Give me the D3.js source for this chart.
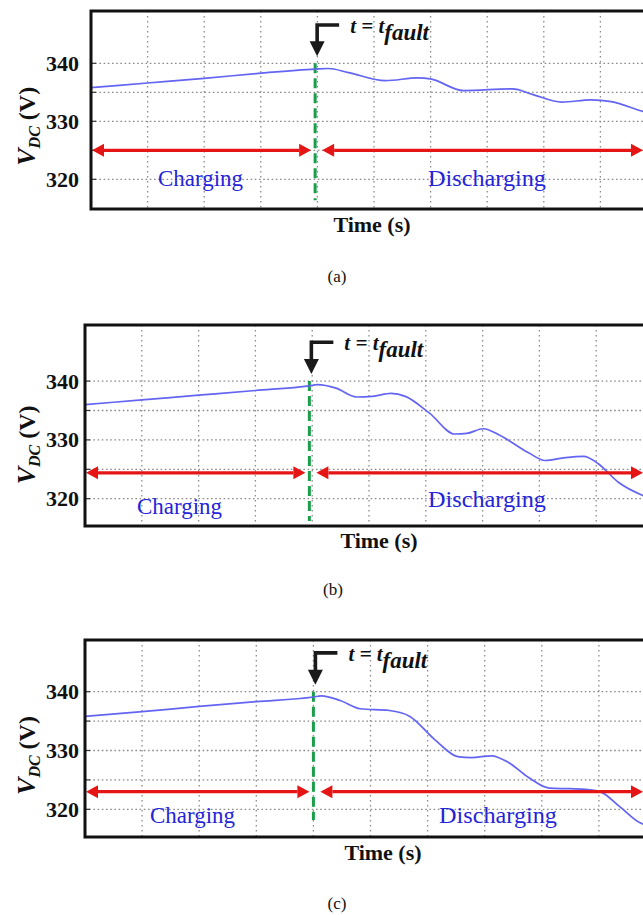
<!DOCTYPE html>
<html>
<head>
<meta charset="utf-8">
<script src="https://cdn.jsdelivr.net/npm/d3@7"></script>
<style>
html,body{margin:0;padding:0;background:#fff;}
svg{display:block;}
svg text{font-family:"Liberation Serif","Tinos","Times New Roman","DejaVu Serif",serif;}
</style>
</head>
<body>
<svg id="chart" width="643" height="915"></svg>
<script>
// ---------------- DATA ----------------
const panelIds = ["a", "b", "c"];
const yTickValues = [320, 330, 340];
const yGridValues = [320, 325, 330, 335, 340];
const xGridDivisions = [1, 2, 3, 4, 5, 6, 7, 8, 9];
const faultTimes = [3.96, 3.95, 4.0];
const arrowLevels = [325.0, 324.4, 323.0];
const greenEnd = [316.4, 316.2, 318.2];

const timeA = [0, 1, 2, 3, 3.96, 4.19, 4.55, 5.2, 5.78, 6.0, 6.58, 7.45, 7.81, 8.32, 8.83, 9.19, 9.75, 10.2];
const vdcA  = [335.8, 336.6, 337.4, 338.3, 339.0, 339.1, 338.4, 337.0, 337.5, 337.3, 335.3, 335.6, 334.6, 333.3, 333.7, 333.4, 331.7, 330.5];

const timeB = [0, 1, 2, 3, 3.95, 4.09, 4.42, 4.78, 5.06, 5.39, 5.64, 6.07, 6.51, 6.72, 7.01, 7.30, 7.81, 8.10, 8.46, 8.78, 9.03, 9.39, 9.81, 10.2];
const vdcB  = [336.0, 336.8, 337.6, 338.4, 339.2, 339.4, 338.8, 337.3, 337.4, 337.9, 337.4, 334.5, 331.0, 331.1, 331.9, 330.8, 327.8, 326.5, 327.0, 327.2, 326.0, 322.8, 320.6, 319.4];

const timeC = [0, 1, 2, 3, 4.0, 4.14, 4.47, 4.82, 5.33, 5.69, 6.12, 6.55, 6.76, 7.12, 7.41, 7.77, 8.13, 8.49, 8.77, 9.02, 9.37, 9.72, 10.2];
const vdcC  = [335.8, 336.6, 337.5, 338.3, 339.1, 339.3, 338.5, 337.1, 336.8, 335.8, 331.9, 328.9, 328.8, 329.1, 328.0, 325.4, 323.6, 323.5, 323.4, 323.0, 320.4, 317.7, 316.6];

const seriesTimes = [timeA, timeB, timeC];
const seriesValues = [vdcA, vdcB, vdcC];

const leftLabel = "Charging";
const rightLabel = "Discharging";
const xTitle = "Time (s)";

// ---------------- LAYOUT ----------------
const layouts = [
  {left: 91, top: 11, bottom: 209, div: 56.6, y320: 179.3, y340: 63.3,
   timeX: 372, timeY: 232, capX: 337, capY: 282,
   chX: 158, chY: 186, dchX: 428, dchY: 186},
  {left: 85, top: 325, bottom: 526, div: 56.8, y320: 498.7, y340: 381.1,
   timeX: 379, timeY: 548, capX: 333, capY: 595,
   chX: 137, chY: 514, dchX: 428, dchY: 507},
  {left: 85, top: 640, bottom: 837, div: 57.1, y320: 809.3, y340: 691.7,
   timeX: 383, timeY: 860, capX: 337, capY: 909,
   chX: 150, chY: 823, dchX: 439, dchY: 823}
];

const svg = d3.select("#chart");
const W = 643;

panelIds.forEach((id, i) => {
  const L = layouts[i];
  const x = d3.scaleLinear().domain([0, 10]).range([L.left, L.left + 10 * L.div]);
  const y = d3.scaleLinear().domain([320, 340]).range([L.y320, L.y340]);
  const g = svg.append("g");
  const right = x(10);

  const clipId = "clip-" + id;
  svg.append("clipPath").attr("id", clipId)
    .append("rect").attr("x", L.left).attr("y", L.top)
    .attr("width", right - L.left).attr("height", L.bottom - L.top);

  // grid
  const grid = g.append("g").attr("clip-path", `url(#${clipId})`);
  grid.selectAll("line.h").data(yGridValues).enter().append("line")
    .attr("x1", L.left).attr("x2", right)
    .attr("y1", d => y(d)).attr("y2", d => y(d))
    .attr("stroke", "#8a8a8a").attr("stroke-width", 1.3)
    .attr("stroke-dasharray", "1.6,2.6");
  grid.selectAll("line.v").data(xGridDivisions).enter().append("line")
    .attr("x1", d => x(d)).attr("x2", d => x(d))
    .attr("y1", L.top).attr("y2", L.bottom)
    .attr("stroke", "#8a8a8a").attr("stroke-width", 1.3)
    .attr("stroke-dasharray", "1.6,3.4");

  // small ticks on left frame
  g.selectAll("line.tk").data(yGridValues).enter().append("line")
    .attr("x1", L.left).attr("x2", L.left + 5)
    .attr("y1", d => y(d)).attr("y2", d => y(d))
    .attr("stroke", "#333").attr("stroke-width", 1.2);

  // tick labels
  g.selectAll("text.tl").data(yTickValues).enter().append("text")
    .attr("x", 79).attr("y", d => y(d)).attr("dy", "0.34em")
    .attr("text-anchor", "end")
    .attr("font-weight", "bold").attr("font-size", 22)
    .attr("fill", "#111").text(d => d);

  // green dashed fault line
  const fx = x(faultTimes[i]);
  g.append("line")
    .attr("x1", fx).attr("x2", fx)
    .attr("y1", y(340)).attr("y2", y(greenEnd[i]))
    .attr("stroke", "#1a9e4a").attr("stroke-width", 3)
    .attr("stroke-dasharray", "10,5");

  // data line
  const line = d3.line().x(d => x(d[0])).y(d => y(d[1])).curve(d3.curveMonotoneX);
  const pts = seriesTimes[i].map((t, k) => [t, seriesValues[i][k]]);
  g.append("path").attr("clip-path", `url(#${clipId})`)
    .datum(pts).attr("d", line)
    .attr("fill", "none").attr("stroke", "#6464f2").attr("stroke-width", 1.7);

  // red double arrows
  const ay = y(arrowLevels[i]);
  const red = "#e51515";
  const ah = 12, aw = 6.5;
  const lStart = L.left + 1, lEnd = fx - 4;
  const rStart = fx + 7, rEnd = W;
  g.append("line").attr("x1", lStart + ah).attr("x2", lEnd - ah)
    .attr("y1", ay).attr("y2", ay).attr("stroke", red).attr("stroke-width", 3.2);
  g.append("line").attr("x1", rStart + ah).attr("x2", rEnd - ah)
    .attr("y1", ay).attr("y2", ay).attr("stroke", red).attr("stroke-width", 3.2);
  const tri = (tipX, dir) => `M${tipX},${ay} L${tipX + dir * ah},${ay - aw} L${tipX + dir * ah},${ay + aw} Z`;
  [[lStart, 1], [lEnd, -1], [rStart, 1], [rEnd, -1]].forEach(([tx, dir]) => {
    g.append("path").attr("d", tri(tx, dir)).attr("fill", red);
  });

  // labels
  g.append("text").attr("x", L.chX).attr("y", L.chY)
    .attr("font-size", 23).attr("fill", "#2424d8")
    .attr("textLength", 85).attr("lengthAdjust", "spacingAndGlyphs")
    .text(leftLabel);
  g.append("text").attr("x", L.dchX).attr("y", L.dchY)
    .attr("font-size", 23).attr("fill", "#2424d8")
    .attr("textLength", 118).attr("lengthAdjust", "spacingAndGlyphs")
    .text(rightLabel);

  // fault annotation arrow
  const barY = y(346.6), tipY = y(341.2);
  const ax = fx + 2;
  g.append("path")
    .attr("d", `M${ax + 22},${barY} L${ax},${barY} L${ax},${tipY - 14}`)
    .attr("fill", "none").attr("stroke", "#1a1a1a").attr("stroke-width", 3.6);
  g.append("path")
    .attr("d", `M${ax - 7.5},${tipY - 15} L${ax + 7.5},${tipY - 15} L${ax},${tipY} Z`)
    .attr("fill", "#1a1a1a");
  const ft = g.append("text").attr("x", ax + 33).attr("y", y(345.3))
    .attr("font-weight", "bold").attr("font-style", "italic")
    .attr("font-size", 21).attr("fill", "#111");
  ft.append("tspan").text("t = t");
  ft.append("tspan").attr("dy", 7).attr("font-size", 23).text("fault");

  // frame
  g.append("rect").attr("x", L.left).attr("y", L.top)
    .attr("width", right - L.left).attr("height", L.bottom - L.top)
    .attr("fill", "none").attr("stroke", "#111").attr("stroke-width", 3);

  // y axis title
  const yt = g.append("text")
    .attr("transform", `translate(35,${y(330) + 5}) rotate(-90)`)
    .attr("text-anchor", "middle")
    .attr("font-weight", "bold").attr("fill", "#111");
  yt.append("tspan").attr("font-style", "italic").attr("font-size", 26).text("V");
  yt.append("tspan").attr("font-style", "italic").attr("font-size", 16).attr("dy", 5).text("DC");
  yt.append("tspan").attr("font-size", 24).attr("dy", -5).text(" (V)");

  // x title
  g.append("text").attr("x", L.timeX).attr("y", L.timeY).attr("text-anchor", "middle")
    .attr("font-weight", "bold").attr("font-size", 22)
    .attr("fill", "#111").text(xTitle);

  // caption
  g.append("text").attr("x", L.capX).attr("y", L.capY).attr("text-anchor", "middle")
    .attr("font-size", 17).attr("fill", "#111")
    .text(`(${id})`);
});
</script>
</body>
</html>
